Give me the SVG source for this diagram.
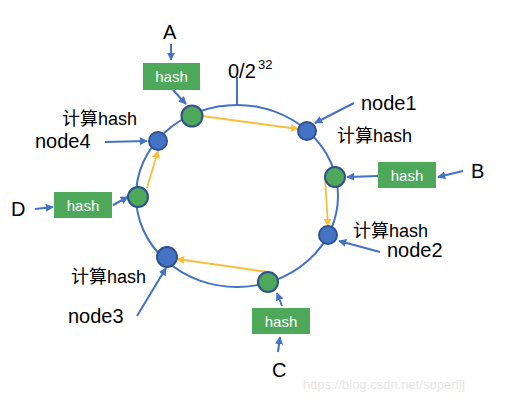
<svg xmlns="http://www.w3.org/2000/svg" width="508" height="402" viewBox="0 0 508 402">
<defs>
<marker id="ab" viewBox="0 0 10 10" refX="9" refY="5" markerWidth="8" markerHeight="8" markerUnits="userSpaceOnUse" orient="auto"><path d="M0,0 L10,5 L0,10 z" fill="#4472C4"/></marker>
<marker id="ay" viewBox="0 0 10 10" refX="9" refY="5" markerWidth="8" markerHeight="8" markerUnits="userSpaceOnUse" orient="auto"><path d="M0,0 L10,5 L0,10 z" fill="#F9BE3A"/></marker>
<style>
.t{font-family:"Liberation Sans","Noto Sans CJK SC",sans-serif;fill:#000;}
.big{font-size:20px;}
.cj{font-size:18px;}
.hb{fill:#4EA85A;}
.ht{font-family:"Liberation Sans",sans-serif;font-size:15px;fill:#fff;text-anchor:middle;}
.g{fill:#4EA85A;stroke:#2F528F;stroke-width:2;}
.b{fill:#4472C4;stroke:#2F528F;stroke-width:2;}
.bl{stroke:#4472C4;stroke-width:2;fill:none;marker-end:url(#ab);}
.yl{stroke:#F9BE3A;stroke-width:1.8;fill:none;marker-end:url(#ay);}
</style>
</defs>
<rect width="508" height="402" fill="#fff"/>
<g id="ring">
<ellipse cx="237" cy="196" rx="101" ry="91" fill="none" stroke="#4472C4" stroke-width="2"/>
<line x1="237" y1="77" x2="237" y2="105" stroke="#4472C4" stroke-width="2"/>
<text class="t big" x="228" y="78">0/2</text>
<text class="t" x="258" y="69" font-size="13">32</text>
</g>
<g id="connectors">
<line class="bl" x1="171" y1="44" x2="171" y2="60"/>
<line class="bl" x1="173" y1="90" x2="186" y2="104"/>
<line class="bl" x1="354" y1="103" x2="315" y2="123"/>
<line class="bl" x1="463" y1="171" x2="438" y2="177"/>
<line class="bl" x1="378" y1="176" x2="347" y2="177"/>
<line class="bl" x1="380" y1="252" x2="339" y2="241"/>
<line class="bl" x1="105" y1="142" x2="147" y2="141"/>
<line class="bl" x1="35" y1="209" x2="53" y2="207"/>
<line class="bl" x1="113" y1="205" x2="128" y2="197"/>
<line class="bl" x1="137" y1="316" x2="166" y2="268"/>
<line class="bl" x1="282" y1="306" x2="277" y2="293"/>
<line class="bl" x1="278" y1="352" x2="280" y2="337"/>
<line class="yl" x1="202" y1="116" x2="298" y2="129"/>
<line class="yl" x1="325" y1="177" x2="328" y2="226"/>
<line class="yl" x1="268" y1="272" x2="177" y2="259"/>
<line class="yl" x1="147" y1="188" x2="158" y2="151"/>
</g>
<g id="A">
<text class="t big" x="163" y="39">A</text>
<rect class="hb" x="143" y="63" width="57" height="27"/>
<text class="ht" x="171.5" y="82">hash</text>
<circle class="g" cx="192" cy="116" r="10.5"/>
</g>
<g id="node1">
<circle class="b" cx="307" cy="131" r="9"/>
<text class="t big" x="361" y="110">node1</text>
<text class="t cj" x="337" y="142">计算hash</text>
</g>
<g id="B">
<text class="t big" x="471" y="178">B</text>
<rect class="hb" x="378" y="162" width="58" height="26"/>
<text class="ht" x="407" y="180.5">hash</text>
<circle class="g" cx="335" cy="177" r="10"/>
</g>
<g id="node2">
<circle class="b" cx="328" cy="235" r="9"/>
<text class="t cj" x="353" y="237">计算hash</text>
<text class="t big" x="387" y="257">node2</text>
</g>
<g id="C">
<circle class="g" cx="268" cy="282" r="10"/>
<rect class="hb" x="252" y="308" width="58" height="26"/>
<text class="ht" x="281" y="326.5">hash</text>
<text class="t big" x="272" y="377">C</text>
</g>
<g id="node3">
<circle class="b" cx="167" cy="257" r="10"/>
<text class="t cj" x="71" y="283">计算hash</text>
<text class="t big" x="68" y="323">node3</text>
</g>
<g id="D">
<text class="t big" x="11" y="216">D</text>
<rect class="hb" x="54" y="192" width="58" height="26"/>
<text class="ht" x="83" y="210.5">hash</text>
<circle class="g" cx="138" cy="197" r="10"/>
</g>
<g id="node4">
<circle class="b" cx="158" cy="141" r="9"/>
<text class="t cj" x="62" y="125">计算hash</text>
<text class="t big" x="35" y="148">node4</text>
</g>
<text x="303" y="389" font-family="Liberation Sans,sans-serif" font-size="13" fill="#e6e6e6">https://blog.csdn.net/superfjj</text>
</svg>
